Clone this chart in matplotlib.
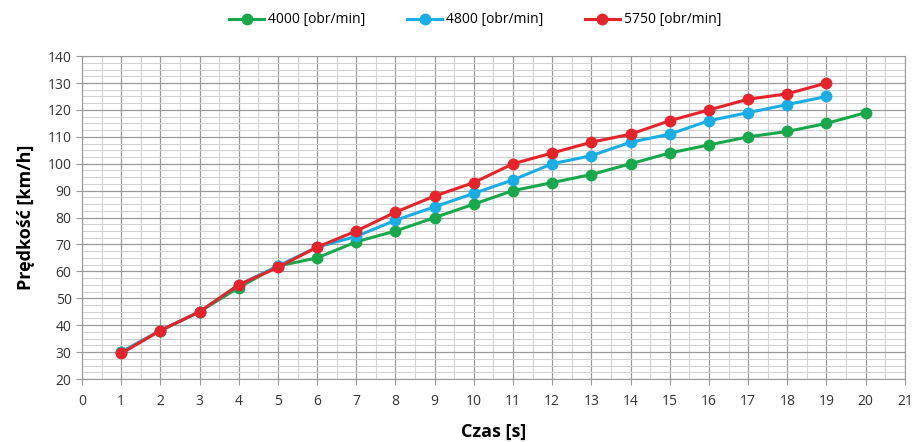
import matplotlib.pyplot as plt
from matplotlib.ticker import MultipleLocator

# data
czas_4000 = list(range(1, 21))
v_4000 = [30, 38, 45, 54, 62, 65, 71, 75, 80, 85, 90, 93, 96, 100, 104, 107, 110, 112, 115, 119]
czas_4800 = list(range(1, 20))
v_4800 = [30, 38, 45, 55, 62, 69, 73, 79, 84, 89, 94, 100, 103, 108, 111, 116, 119, 122, 125]
czas_5750 = list(range(1, 20))
v_5750 = [29.5, 38, 45, 55, 61.5, 69, 75, 82, 88, 93, 100, 104, 108, 111, 116, 120, 124, 126, 130]
labels = ["4000 [obr/min]", "4800 [obr/min]", "5750 [obr/min]"]

plt.rcParams['font.family'] = ['Open Sans', 'DejaVu Sans']

fig = plt.figure(figsize=(9.14, 4.42), dpi=100)
ax = fig.add_axes([0.0897, 0.1425, 0.9003, 0.7305])

ax.plot(czas_4000, v_4000, color='#16a84b', lw=2.2, marker='o', ms=7.5, label=labels[0], zorder=3)
ax.plot(czas_4800, v_4800, color='#19ade6', lw=2.2, marker='o', ms=7.5, label=labels[1], zorder=4)
ax.plot(czas_5750, v_5750, color='#e6232b', lw=2.2, marker='o', ms=7.5, label=labels[2], zorder=5)

ax.set_xlim(0, 21)
ax.set_ylim(20, 140)
ax.xaxis.set_major_locator(MultipleLocator(1))
ax.xaxis.set_minor_locator(MultipleLocator(0.5))
ax.yaxis.set_major_locator(MultipleLocator(10))
ax.yaxis.set_minor_locator(MultipleLocator(2.5))
ax.grid(which='major', color='#9a9a9a', lw=0.9)
ax.grid(which='minor', color='#d2d2d2', lw=0.8)
ax.set_axisbelow(True)

for s in ax.spines.values():
    s.set_color('#9a9a9a')
ax.tick_params(which='minor', length=0)
ax.tick_params(which='major', length=4, color='#9a9a9a', labelsize=10, labelcolor='#333333')
ax.tick_params(axis='x', pad=7)

ax.set_xlabel('Czas [s]', fontsize=13, fontweight='bold', labelpad=10)
ax.set_ylabel('Prędkość [km/h]', fontsize=13, fontweight='bold', labelpad=9)

fig.legend(loc='upper center', bbox_to_anchor=(0.52, 1.0), ncol=3, frameon=False,
           fontsize=10, handlelength=2.5, columnspacing=3, handletextpad=0.3)

fig.savefig('out.png', dpi=100)
